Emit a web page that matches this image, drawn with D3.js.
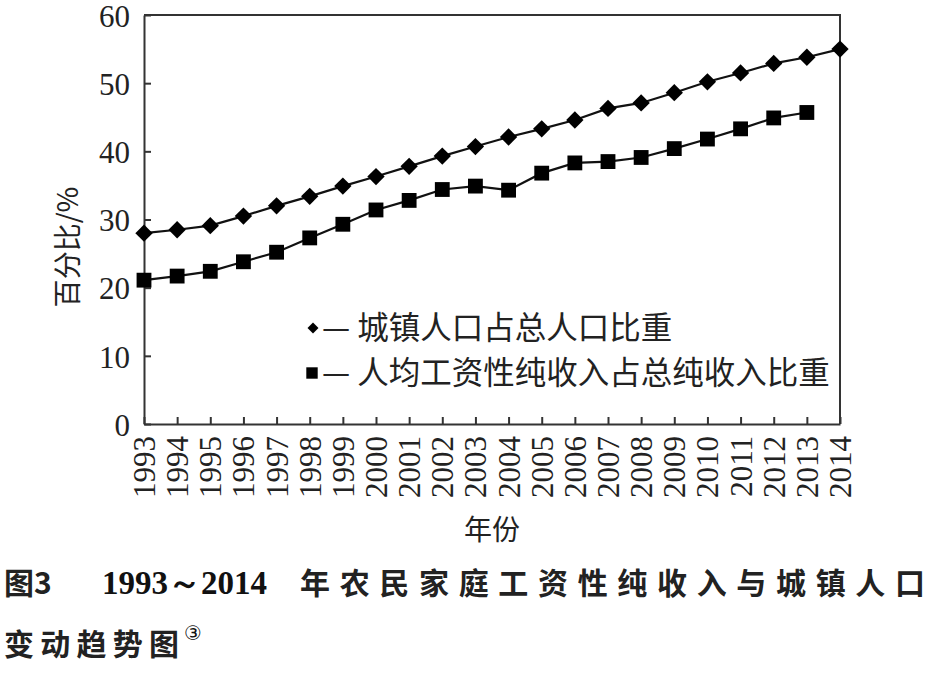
<!DOCTYPE html>
<html>
<head>
<meta charset="utf-8">
<script src="https://cdn.jsdelivr.net/npm/d3@7"></script>
<style>
  body { margin: 0; background: #fff; }
  .tick text { font-family: "Liberation Serif", "Times New Roman", serif; font-size: 31px; fill: #222; }
  .cjk { font-family: "Noto Sans CJK SC", sans-serif; fill: #222; }
</style>
</head>
<body>
<div id="chart"></div>
<script>
var canvas_width = 933,
    canvas_height = 678;

// data
var years = [1993, 1994, 1995, 1996, 1997, 1998, 1999, 2000, 2001, 2002, 2003,
             2004, 2005, 2006, 2007, 2008, 2009, 2010, 2011, 2012, 2013, 2014];
var urbanShare = [28.0, 28.5, 29.1, 30.5, 32.0, 33.4, 34.9, 36.3, 37.8, 39.3, 40.7,
                  42.1, 43.3, 44.6, 46.3, 47.1, 48.6, 50.2, 51.5, 52.9, 53.8, 55.0];
var wageYears = years.slice(0, 21);
var wageShare = [21.1, 21.7, 22.4, 23.8, 25.2, 27.3, 29.3, 31.4, 32.8, 34.4, 34.9,
                 34.3, 36.8, 38.3, 38.5, 39.1, 40.4, 41.8, 43.3, 44.9, 45.7];
var yTicks = [0, 10, 20, 30, 40, 50, 60];
var legendNames = ["城镇人口占总人口比重", "人均工资性纯收入占总纯收入比重"];

var svg = d3.select("#chart")
    .append("svg")
    .attr("width", canvas_width)
    .attr("height", canvas_height);

var plot = { left: 144, right: 840, top: 15, bottom: 424 };

var xScale = d3.scaleLinear()
    .domain([1993, 2014])
    .range([plot.left, plot.right]);

var yScale = d3.scaleLinear()
    .domain([0, 60])
    .range([plot.bottom, plot.top]);

// frame (top + right)
svg.append("path")
    .attr("d", `M${plot.left},${plot.top}H${plot.right}V${plot.bottom}`)
    .attr("fill", "none")
    .attr("stroke", "#333")
    .attr("stroke-width", 2);

// Axes
var yAxis = svg.append("g")
    .attr("transform", `translate(${plot.left},0)`)
    .call(d3.axisLeft(yScale).tickValues(yTicks).tickSizeInner(-7).tickSizeOuter(0).tickPadding(14));

yAxis.selectAll("text").attr("dy", ".36em");

var xAxis = svg.append("g")
    .attr("transform", `translate(0,${plot.bottom})`)
    .call(d3.axisBottom(xScale).tickValues(years).tickFormat(d3.format("d")).tickSizeInner(-7).tickSizeOuter(0));

xAxis.selectAll("text")
    .attr("transform", "rotate(-90)")
    .attr("x", -12)
    .attr("y", 0)
    .attr("dy", ".34em")
    .style("text-anchor", "end");

svg.selectAll(".domain, .tick line")
    .attr("stroke", "#333")
    .attr("stroke-width", 2);

// Axis titles
svg.append("text")
    .attr("class", "cjk")
    .attr("transform", "translate(78,247) rotate(-90)")
    .attr("text-anchor", "middle")
    .style("font-size", "28px")
    .text("百分比/%");

svg.append("text")
    .attr("class", "cjk")
    .attr("x", 492)
    .attr("y", 540)
    .attr("text-anchor", "middle")
    .style("font-size", "28px")
    .text("年份");

// Lines
var line = d3.line()
    .x(d => xScale(d[0]))
    .y(d => yScale(d[1]));

var urbanPts = years.map((y, i) => [y, urbanShare[i]]);
var wagePts = wageYears.map((y, i) => [y, wageShare[i]]);

[urbanPts, wagePts].forEach(function (pts) {
    svg.append("path")
        .datum(pts)
        .attr("fill", "none")
        .attr("stroke", "#111")
        .attr("stroke-width", 2.2)
        .attr("d", line);
});

var diamond = d3.symbol().type(d3.symbolSquare).size(150);
var square = d3.symbol().type(d3.symbolSquare).size(220);

svg.append("g").selectAll("path")
    .data(urbanPts)
    .enter()
    .append("path")
    .attr("d", diamond)
    .attr("transform", d => `translate(${xScale(d[0])},${yScale(d[1])}) rotate(45)`)
    .attr("fill", "#000");

svg.append("g").selectAll("path")
    .data(wagePts)
    .enter()
    .append("path")
    .attr("d", square)
    .attr("transform", d => `translate(${xScale(d[0])},${yScale(d[1])})`)
    .attr("fill", "#000");

// Legend
var legend = svg.append("g");
legend.append("path")
    .attr("d", d3.symbol().type(d3.symbolSquare).size(60))
    .attr("transform", "translate(313,328) rotate(45)")
    .attr("fill", "#000");
legend.append("path")
    .attr("d", d3.symbol().type(d3.symbolSquare).size(130))
    .attr("transform", "translate(312,373)")
    .attr("fill", "#000");
legendNames.forEach(function (name, i) {
    legend.append("text")
        .attr("class", "cjk")
        .attr("x", 322)
        .attr("y", 339 + i * 45)
        .style("font-size", "31.5px")
        .text("— " + name);
});

// Caption
var cap = svg.append("g").style("font-weight", "bold");
cap.append("text")
    .attr("class", "cjk")
    .attr("x", 4).attr("y", 594)
    .style("font-size", "30px")
    .text("图3");
cap.append("text")
    .attr("x", 102).attr("y", 594)
    .style("font-family", "Liberation Serif, serif")
    .style("font-size", "33px")
    .style("fill", "#111")
    .text("1993～2014");
cap.append("text")
    .attr("class", "cjk")
    .attr("x", 300).attr("y", 594)
    .attr("textLength", 625)
    .attr("lengthAdjust", "spacing")
    .style("font-size", "30px")
    .text("年农民家庭工资性纯收入与城镇人口");
cap.append("text")
    .attr("class", "cjk")
    .attr("x", 4).attr("y", 655)
    .attr("textLength", 175)
    .attr("lengthAdjust", "spacing")
    .style("font-size", "30px")
    .text("变动趋势图");
svg.append("text")
    .attr("x", 184).attr("y", 640)
    .style("font-family", "DejaVu Sans, sans-serif")
    .style("font-size", "20px")
    .style("fill", "#111")
    .text("③");
</script>
</body>
</html>
